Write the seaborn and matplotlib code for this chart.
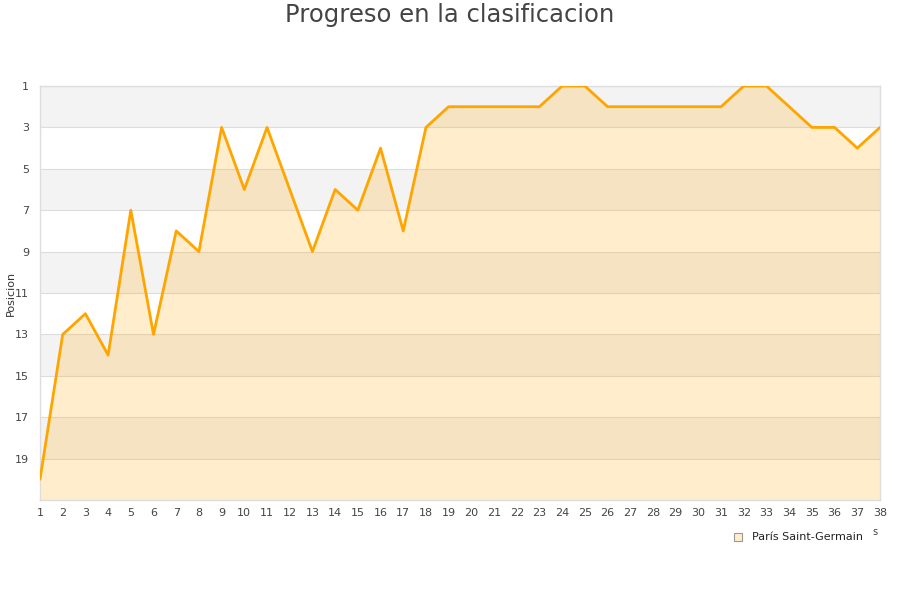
import pandas as pd
import matplotlib
matplotlib.use('Agg')
import matplotlib.pyplot as plt
import seaborn as sns

# Jornadas y posicion
jornadas = list(range(1, 39))
posicion = [20, 13, 12, 14, 7, 13, 8, 9, 3, 6,
            3, 6, 9, 6, 7, 4, 8, 3, 2, 2,
            2, 2, 2, 1, 1, 2, 2, 2, 2, 2,
            2, 1, 1, 2, 3, 3, 4, 3]
equipo = 'París Saint-Germain'
y_ticks = list(range(1, 20, 2))

df = pd.DataFrame({'Jornada': jornadas, 'Posicion': posicion})

sns.set_style('white')
plt.rcParams['font.family'] = ['DejaVu Sans']

fig = plt.figure(figsize=(9, 6), dpi=100)
ax = fig.add_axes([40 / 900, 100 / 600, 840 / 900, 414 / 600])

# bandas alternas
for i, start in enumerate(range(1, 21, 2)):
    if i % 2 == 0:
        ax.axhspan(start, start + 2, color='#f3f3f3', zorder=0, lw=0)

ax.fill_between(df['Jornada'], df['Posicion'], 21, color='#ffa500', alpha=0.2, lw=0, zorder=1)
sns.lineplot(data=df, x='Jornada', y='Posicion', color='#ffa500', lw=2, ax=ax, zorder=3)

ax.set_xlim(1, 38)
ax.set_ylim(21, 1)
ax.set_xticks(jornadas)
ax.set_yticks(y_ticks)
ax.tick_params(axis='both', length=0, labelsize=8, colors='#444444')
ax.tick_params(axis='x', pad=6)
ax.tick_params(axis='y', pad=8)
ax.yaxis.grid(True, color='#dddddd', lw=0.8, zorder=0.5)
ax.set_axisbelow(True)
for s in ax.spines.values():
    s.set_color('#dddddd')
    s.set_linewidth(1)

ax.set_xlabel('')
ax.set_ylabel('')
fig.text(11 / 900, 1 - 293 / 600, 'Posicion', rotation=90, ha='center', va='center',
         fontsize=8, color='#333333')

fig.text(0.5, 0.975, 'Progreso en la clasificacion', ha='center', va='center',
         fontsize=17.5, color='#444444')

# leyenda
fig.patches.append(plt.Rectangle((734 / 900, 1 - 541 / 600), 8 / 900, 8 / 600,
                                 transform=fig.transFigure, facecolor='#ffeecc',
                                 edgecolor='#999999', lw=0.8))
fig.text(752 / 900, 1 - 537 / 600, equipo, ha='left', va='center', fontsize=8, color='#222222')
fig.text(875 / 900, 1 - 532 / 600, 's', ha='center', va='center', fontsize=7, color='#444444')

plt.savefig('out.png', dpi=100)
